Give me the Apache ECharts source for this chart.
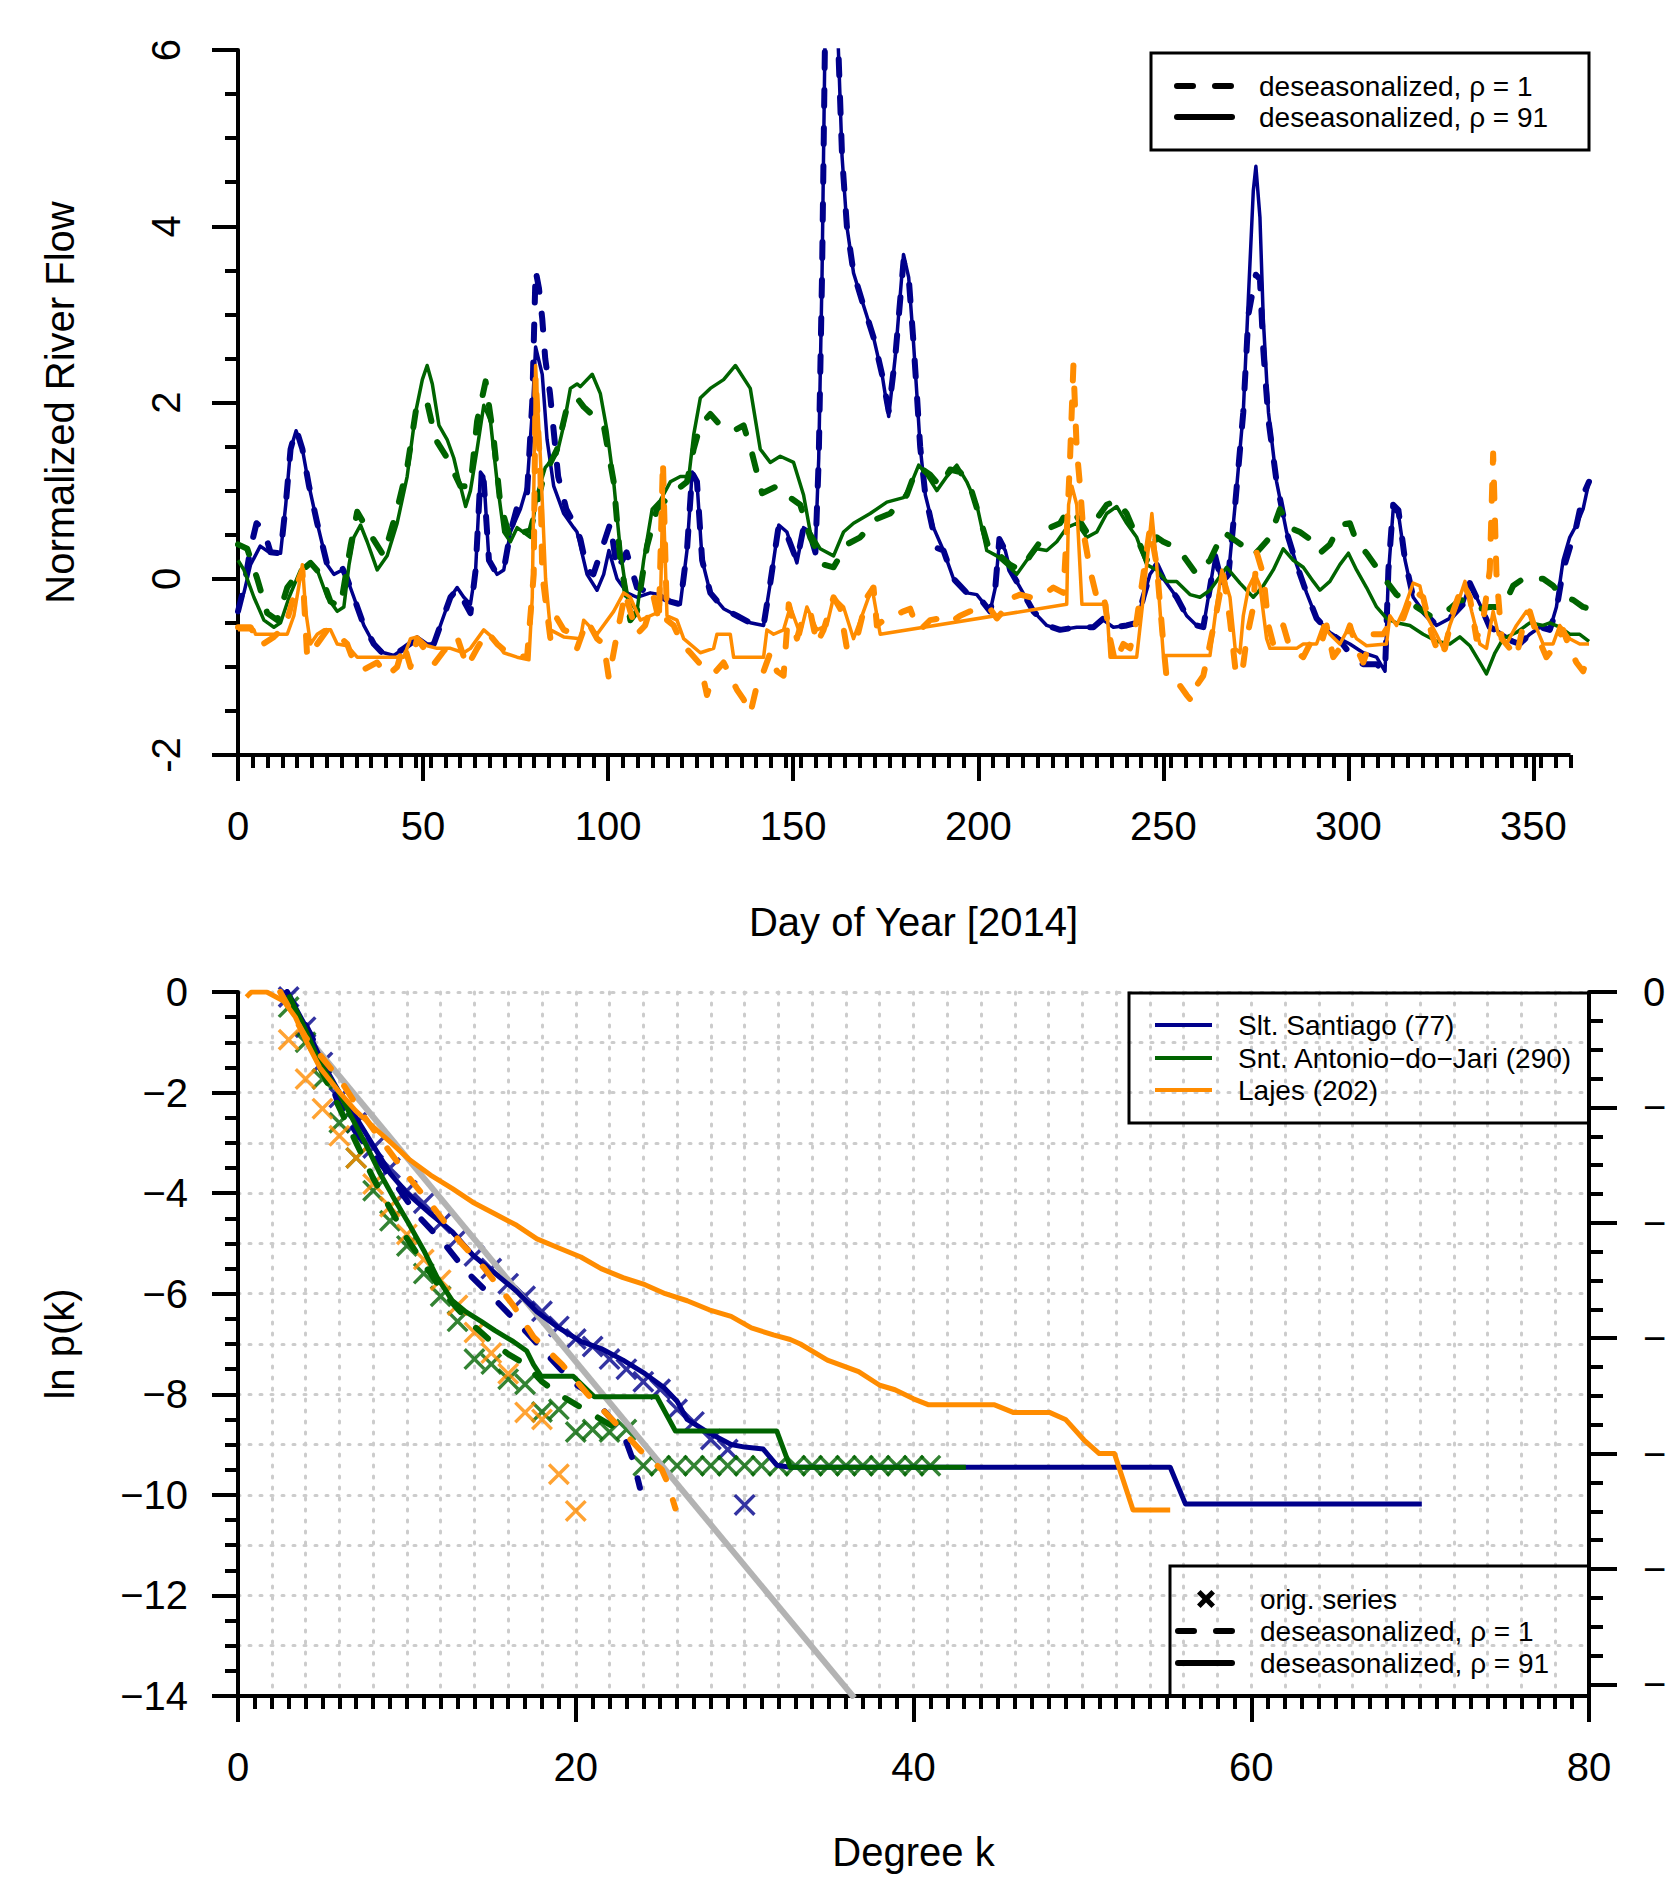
<!DOCTYPE html>
<html>
<head>
<meta charset="utf-8">
<script src="https://cdn.jsdelivr.net/npm/echarts@6/dist/echarts.min.js"></script>
<style>
html,body{margin:0;padding:0;background:#fff;}
#chart{width:1667px;height:1881px;}
</style>
</head>
<body>
<div id="chart"></div>
<script>
// ---- top panel: normalized river flow, [day, value] ----
var santiagoTop1 = [[0,-0.37],[1.6,-0.1],[3.4,0.35],[5,0.63],[7,0.55],[8.8,0.3],[11.5,0.29],[12.9,0.84],[14.2,1.47],[15.7,1.7],[17.4,1.47],[19.2,1.05],[21.4,0.63],[24.1,0.16],[25.9,0.08],[28.2,0.12],[29.5,0],[31.3,-0.21],[34,-0.53],[36.7,-0.74],[39.4,-0.86],[42.1,-0.87],[44.8,-0.79],[48.4,-0.68],[51.1,-0.74],[52.9,-0.74],[55.6,-0.42],[57.4,-0.21],[59.2,-0.12],[61,-0.25],[62.8,-0.39],[64.2,0.1],[65.5,1.16],[66.4,1.1],[67.8,0.21],[70,0.05],[71.8,0.1],[73.6,0.53],[76.3,0.95],[78.1,0.98],[79.5,2.0],[80.4,3.5],[81.3,3.3],[82.2,2.95],[83,2.5],[84.3,2.1],[86.5,1.16],[88.7,0.79],[90.7,0.63],[92.5,0.45],[94.3,0.1],[96,0.05],[98,0.3],[100.6,0.63],[102.4,0.1],[105,0.3],[107.8,-0.1],[111.4,-0.16],[114.1,-0.2],[116.8,-0.26],[119.5,-0.29],[121.3,0.32],[122.7,1.2],[124,1.1],[125.4,0.21],[127.6,-0.16],[131.2,-0.34],[134.8,-0.42],[138.4,-0.5],[142,-0.53],[143.8,-0.05],[146.1,0.61],[148.3,0.5],[151,0.2],[152.8,0.58],[154.6,0.5],[156,0.3],[156.9,1.37],[157.8,3.47],[158.7,6.5],[160,8],[161.8,6.5],[163.2,4.79],[164.5,4.0],[166.3,3.47],[169,3.1],[171.7,2.74],[174,2.32],[175.8,1.9],[177.6,2.53],[179.8,3.6],[181.2,3.42],[182.5,2.68],[183.4,2.1],[184.3,1.5],[185.7,0.95],[188.8,0.35],[190.6,0.32],[193.3,0],[196.9,-0.16],[199.6,-0.18],[203.2,-0.37],[204.6,-0.1],[205.7,0.45],[207.3,0.32],[208.6,0.1],[211.3,-0.1],[214.9,-0.37],[218.5,-0.53],[222.1,-0.58],[226.6,-0.55],[231.1,-0.55],[233.8,-0.45],[236.5,-0.55],[240.1,-0.53],[242.8,-0.5],[244.6,-0.21],[246.4,0.05],[248.2,0.16],[250,0],[253.6,-0.21],[256.3,-0.42],[259,-0.53],[260.8,-0.55],[262.6,-0.1],[264,0.26],[265.8,-0.05],[267.6,0.05],[269.4,0.84],[271.6,1.89],[273,3.0],[274.3,3.3],[275,3.45],[276.1,3.4],[277,2.6],[278.4,1.8],[280.6,1.1],[283.3,0.53],[286,0.16],[288.7,-0.16],[291.4,-0.45],[295,-0.61],[297.7,-0.7],[300.4,-0.85],[304,-0.97],[307.6,-0.97],[309.9,-1.05],[310.8,0.1],[312.1,0.84],[313.5,0.78],[315.3,0.21],[317.5,-0.21],[320.2,-0.37],[323.8,-0.53],[327.4,-0.45],[331,-0.29],[332.8,-0.05],[335.5,-0.29],[338.2,-0.55],[340.9,-0.61],[343.6,-0.7],[346.3,-0.74],[349,-0.63],[351.7,-0.55],[354.4,-0.58],[356.2,-0.35],[358,0.1],[359.8,0.35],[361.6,0.6],[363.4,0.95],[365,1.1]];
var santiagoTop91 = [[0,-0.32],[1.6,-0.16],[3.4,0.16],[6,0.37],[8.8,0.29],[11.5,0.29],[12.9,0.84],[14.2,1.47],[15.7,1.68],[17.4,1.47],[19.2,1.05],[21.4,0.63],[24.1,0.16],[25.9,0.05],[28.2,0.1],[29.5,0],[31.3,-0.21],[34,-0.53],[36.7,-0.74],[39.4,-0.84],[42.1,-0.87],[44.8,-0.79],[48.4,-0.66],[51.1,-0.74],[52.9,-0.74],[55.6,-0.42],[57.4,-0.21],[59.2,-0.1],[61,-0.21],[62.8,-0.29],[64.2,0.1],[65.5,1.21],[66.4,1.16],[67.8,0.21],[70,0.05],[71.8,0.1],[73.6,0.53],[76.3,0.79],[78.1,1.05],[79.5,1.89],[80.4,2.63],[82.2,2.32],[83.5,1.58],[85.3,1.05],[88,0.74],[90.7,0.58],[91.6,0.53],[94.3,0.05],[97,-0.13],[98.8,0.05],[100.2,0.32],[102.4,0],[105.1,-0.16],[107.8,-0.21],[111.4,-0.16],[114.1,-0.18],[116.8,-0.26],[119.5,-0.29],[121.3,0.32],[122.7,1.21],[124,1.1],[125.4,0.21],[127.6,-0.16],[131.2,-0.34],[134.8,-0.42],[138.4,-0.5],[142,-0.53],[143.8,-0.05],[146.1,0.61],[148.3,0.53],[151,0.18],[152.8,0.58],[154.6,0.53],[156,0.34],[156.9,1.37],[157.8,3.47],[158.7,6.5],[160,8],[161.8,6.5],[163.2,4.79],[164.5,4.0],[166.3,3.47],[169,3.1],[171.7,2.74],[174,2.32],[175.8,1.84],[177.6,2.53],[179.8,3.68],[181.2,3.42],[182.5,2.68],[183.4,2.1],[184.3,1.5],[185.7,0.95],[187.9,0.58],[190.6,0.32],[193.3,0],[196.9,-0.16],[199.6,-0.18],[203.2,-0.37],[204.6,-0.1],[205.7,0.42],[207.3,0.32],[208.6,0.1],[211.3,-0.1],[214.9,-0.37],[218.5,-0.53],[222.1,-0.58],[226.6,-0.55],[231.1,-0.55],[233.8,-0.47],[236.5,-0.55],[240.1,-0.53],[242.8,-0.5],[244.6,-0.21],[246.4,0.05],[248.2,0.16],[250,0],[253.6,-0.21],[256.3,-0.42],[259,-0.53],[260.8,-0.55],[262.6,-0.1],[264,0.26],[265.8,-0.05],[267.6,0.05],[269.4,0.84],[271.6,1.89],[273,3.21],[274.3,4.4],[275,4.68],[276.1,4.1],[277,2.95],[278.4,1.89],[280.6,1.1],[283.3,0.53],[286,0.16],[288.7,-0.16],[291.4,-0.45],[295,-0.61],[297.7,-0.68],[300.4,-0.74],[304,-0.84],[307.6,-0.89],[309.9,-1.05],[310.8,0.05],[312.1,0.79],[313.5,0.74],[315.3,0.21],[317.5,-0.21],[320.2,-0.37],[323.8,-0.53],[327.4,-0.45],[331,-0.29],[332.8,-0.05],[335.5,-0.29],[338.2,-0.53],[340.9,-0.61],[343.6,-0.68],[346.3,-0.74],[349,-0.63],[351.7,-0.55],[354.4,-0.58],[356.2,-0.32],[358,0.21],[359.8,0.47],[361.6,0.61],[363.4,0.79],[365,1.1]];
var antonioTop1 = [[0,0.39],[2.5,0.34],[5.2,0],[7.9,-0.39],[10.6,-0.47],[13.3,-0.1],[16,0.05],[19.6,0.18],[22.3,0.05],[25,-0.26],[27.7,-0.32],[30.4,0.37],[32.2,0.76],[35.8,0.5],[39.4,0.26],[43,0.79],[45.7,1.26],[48.4,2.0],[51.1,2.0],[53.4,1.58],[56.5,1.37],[60.1,1.05],[62.8,1.05],[64.6,1.79],[66.9,2.24],[69.1,1.58],[70.9,0.84],[73.6,0.45],[77.2,0.53],[79,0.55],[82.6,1.16],[86.2,1.47],[88.9,1.95],[91.6,2.05],[93.4,1.95],[98.8,1.74],[101.5,1.1],[103.3,0.21],[106,-0.47],[107.8,-0.37],[110.5,0.37],[113.2,0.79],[116.8,0.95],[121.3,1.1],[123.1,1.47],[124.9,1.74],[127.6,1.87],[130.3,1.74],[133.9,1.68],[136.6,1.74],[138.9,1.42],[141.6,0.97],[145.6,1.05],[149.2,0.92],[151.9,0.84],[154.6,0.47],[158.2,0.16],[160.9,0.13],[164.5,0.39],[168.1,0.47],[172.6,0.68],[176.2,0.74],[180.7,0.95],[183.4,1.26],[184.3,1.26],[187,1.18],[189.7,1.05],[192.4,1.24],[195.1,1.21],[197.8,1.05],[200.5,0.68],[203.2,0.29],[205.9,0.26],[208.6,0.16],[211.3,0.1],[214,0.26],[216.7,0.42],[219.4,0.58],[222.1,0.63],[224.4,0.79],[226.6,0.71],[229.3,0.53],[232,0.68],[234.7,0.84],[237.4,0.89],[240.1,0.74],[242.8,0.47],[245.5,0.21],[248.2,0.47],[250,0.42],[252.7,0.37],[255.4,0.26],[259,0.05],[262.6,0.21],[266.2,0.53],[268.9,0.45],[271.6,0.37],[274.3,0.26],[276.1,0.34],[278.8,0.47],[281.5,0.79],[284.2,0.58],[286.9,0.53],[289.6,0.45],[292.3,0.29],[295,0.39],[297.7,0.61],[300.4,0.63],[302.2,0.42],[304.9,0.29],[307.6,0.13],[310.3,-0.03],[313,-0.18],[315.7,-0.26],[318.4,-0.32],[322,-0.42],[324.7,-0.42],[327.4,-0.34],[330.1,-0.24],[332.8,-0.26],[335.5,-0.34],[338.2,-0.32],[341.8,-0.32],[344.5,-0.08],[347.2,0],[349.9,0],[352.6,0],[355.3,-0.08],[358,-0.21],[360.7,-0.24],[363.4,-0.32],[365,-0.34]];
var antonioTop91 = [[0,0.21],[1.6,0.1],[4.3,-0.21],[7,-0.47],[9.7,-0.55],[11.5,-0.5],[13.8,-0.21],[16.9,0.1],[19.6,0.18],[21.4,0.1],[24.1,-0.21],[26.8,-0.37],[28.6,-0.32],[30,0.16],[31.3,0.47],[33.1,0.61],[34.9,0.42],[37.6,0.1],[40.3,0.26],[43,0.63],[45.7,1.16],[48,1.89],[49.8,2.26],[51.1,2.42],[52.5,2.21],[54.3,1.74],[56.5,1.58],[58.3,1.37],[60.1,1.05],[61.5,0.82],[62.8,1.0],[64.6,1.47],[66.4,1.97],[68.2,1.79],[70,1.1],[71.8,0.53],[73.6,0.42],[75.4,0.58],[79,0.47],[80.8,0.95],[83,1.26],[86.2,1.42],[88,1.74],[89.8,2.16],[91.6,2.21],[92.5,2.18],[95.7,2.32],[97.9,2.1],[99.7,1.68],[101.5,1.1],[103.3,0.32],[105.1,-0.21],[107.8,-0.37],[109.6,0.21],[111.9,0.79],[114.1,0.89],[116.8,1.1],[119.5,1.16],[121.8,1.16],[123.1,1.63],[124.9,2.05],[127.6,2.16],[131.2,2.26],[134.4,2.42],[138.4,2.16],[141.1,1.47],[143.8,1.32],[146.5,1.39],[150.1,1.32],[152.8,0.95],[154.6,0.53],[157.3,0.34],[160.9,0.26],[163.6,0.53],[166.3,0.63],[170.8,0.74],[175.3,0.87],[179.8,0.92],[181.6,1.05],[183.9,1.29],[186.1,1.18],[188.8,1.0],[191.5,1.16],[194.2,1.29],[196.9,1.1],[199.6,0.84],[202.3,0.32],[205,0.26],[207.7,0.16],[210.4,0.05],[213.1,0.21],[215.8,0.34],[218.5,0.32],[221.2,0.42],[223.9,0.58],[226.6,0.63],[229.3,0.47],[232,0.53],[234.7,0.74],[237.4,0.82],[240.1,0.63],[242.8,0.47],[245.5,0.16],[248.2,0.1],[250.9,-0.03],[253.6,-0.03],[257.2,-0.18],[259.9,-0.21],[262.6,-0.13],[267.1,0.13],[270.7,-0.05],[274.3,-0.21],[277,-0.08],[279.7,0.1],[282.4,0.34],[285.1,0.21],[287.8,0.13],[290.5,-0.03],[292.3,-0.13],[295,-0.03],[297.7,0.16],[300,0.29],[302.2,0.1],[304.9,-0.1],[307.6,-0.32],[310.3,-0.45],[313,-0.5],[316.6,-0.53],[320.2,-0.63],[323.8,-0.71],[327.4,-0.74],[330.1,-0.66],[332.8,-0.76],[335.5,-0.95],[337.3,-1.08],[339.6,-0.84],[341.8,-0.68],[345.4,-0.61],[349,-0.5],[352.6,-0.53],[354.4,-0.5],[357.1,-0.55],[359.8,-0.63],[362.5,-0.63],[365,-0.71]];
var lajesTop1 = [[0,-0.55],[3.4,-0.55],[6.1,-0.76],[9.7,-0.66],[12.9,-0.53],[16,-0.05],[17.4,0.1],[18.7,-0.89],[21.4,-0.74],[24.1,-0.58],[26.8,-0.63],[29.5,-0.74],[31.3,-0.95],[34,-1.03],[37.6,-0.95],[40.3,-1.1],[43,-1.0],[44.8,-0.74],[46.6,-1.0],[48.4,-0.68],[51.1,-0.84],[52.9,-0.97],[55.6,-0.82],[59.2,-0.66],[61.9,-1.0],[64.6,-0.79],[67.3,-0.6],[70,-0.74],[72.7,-0.84],[75.4,-0.87],[78.1,-0.89],[79.9,0.05],[80.4,2.3],[81.7,1.2],[82.2,0.05],[84.4,-0.68],[86.2,-0.45],[88,-0.58],[89.8,-0.61],[91.6,-0.79],[94.3,-0.47],[97,-0.68],[98.8,-0.74],[100.2,-1.13],[102.4,-0.63],[104.6,-0.16],[106,-0.37],[107.8,-0.63],[110,-0.53],[112.3,-0.21],[113.7,-0.47],[114.8,1.34],[115.9,-0.47],[117.7,-0.53],[120,-0.74],[122.2,-0.84],[124.9,-0.97],[126.7,-1.32],[128.5,-1.08],[131.2,-0.95],[134.8,-1.26],[136.6,-1.37],[138.4,-1.53],[140.2,-1.21],[142,-1.05],[143.8,-0.84],[145.6,-1.05],[147.4,-1.1],[148.8,-0.29],[151,-0.68],[152.8,-0.42],[154.6,-0.37],[156.4,-0.74],[158.2,-0.58],[160.9,-0.21],[162.7,-0.34],[164.5,-0.79],[167.2,-0.68],[169.9,-0.21],[171.7,-0.1],[172.6,-0.53],[174.4,-0.47],[179.8,-0.37],[181.6,-0.34],[183.4,-0.55],[184.3,-0.58],[187,-0.47],[189.7,-0.45],[192.4,-0.5],[195.1,-0.42],[197.8,-0.37],[203.2,-0.34],[205,-0.45],[207.7,-0.32],[209.5,-0.21],[211.3,-0.18],[214,-0.21],[217.6,-0.18],[220.3,-0.1],[223,-0.16],[223.9,0.53],[224.8,1.37],[225.7,2.42],[226.6,1.47],[227.5,1.05],[228.4,0.53],[230.2,0.1],[232,-0.21],[233.8,-0.16],[235.6,-0.68],[237,-0.95],[239.2,-0.74],[241,-0.79],[242.8,-0.47],[244.6,0.05],[246.4,0.58],[248.2,0.16],[250,-0.74],[250.9,-1.13],[253.6,-1.16],[256.3,-1.32],[257.7,-1.39],[259,-1.21],[260.8,-1.1],[262.6,-0.74],[264.4,-0.37],[266.2,0.05],[268,-0.47],[269.4,-1.0],[271.2,-1.1],[272.5,-0.68],[274.3,-0.32],[275.2,0.3],[277,0.05],[278.4,-0.53],[279.7,-0.74],[282.4,-0.53],[284.2,-0.79],[287.8,-0.89],[289.6,-0.74],[292.3,-0.79],[294.1,-0.53],[295.9,-0.89],[298.6,-0.74],[300.4,-0.53],[302.2,-0.79],[304,-0.95],[306.7,-0.63],[309.4,-0.63],[312.1,-0.45],[314.8,-0.45],[317.5,-0.13],[320.2,-0.21],[322.5,-0.63],[324.7,-0.89],[326.1,-0.79],[328.3,-0.37],[331,-0.05],[332.8,-0.21],[334.6,-0.68],[336.4,-0.47],[338.2,0.1],[339.1,1.42],[340,0.05],[341.4,-0.68],[343.6,-0.79],[345.4,-0.89],[347.2,-0.53],[349,-0.37],[350.8,-0.63],[353.5,-0.89],[355.3,-0.79],[358,-0.58],[359.8,-0.79],[361.6,-0.95],[363.4,-1.05],[365,-0.84]];
var lajesTop91 = [[0,-0.58],[4.3,-0.58],[4.75,-0.63],[13.3,-0.63],[15.1,-0.42],[17.4,0.16],[18.3,-0.37],[19.6,-0.74],[21.4,-0.63],[23.2,-0.58],[25,-0.58],[26.8,-0.74],[29.5,-0.76],[32.2,-0.89],[44.8,-0.89],[46.6,-0.68],[48.4,-0.66],[51.1,-0.76],[53.8,-0.79],[57.4,-0.79],[61,-0.84],[62.8,-0.79],[66.4,-0.58],[69.1,-0.68],[71.8,-0.84],[75.4,-0.89],[78.6,-0.92],[79.5,-0.21],[80.4,2.42],[81.7,1.37],[83.1,0],[84.4,-0.58],[88,-0.66],[92.5,-0.68],[93.4,-0.47],[97,-0.63],[101.5,-0.37],[104.2,-0.16],[106,-0.21],[108.7,-0.47],[111.4,-0.42],[114.1,-0.37],[114.8,1.05],[115.9,-0.42],[118.6,-0.47],[120.4,-0.68],[124.9,-0.84],[128.5,-0.79],[129.4,-0.63],[133,-0.63],[133.9,-0.89],[142,-0.89],[142.9,-0.58],[144.7,-0.63],[147.4,-0.58],[149.2,-0.32],[151.9,-0.63],[153.7,-0.32],[156.4,-0.58],[159.1,-0.53],[160.9,-0.21],[163.6,-0.32],[166.3,-0.68],[169,-0.37],[171.3,-0.1],[173.5,-0.63],[223.9,-0.29],[224.4,0.84],[225.3,1.05],[226.6,0.84],[228,-0.29],[234.7,-0.29],[235.6,-0.89],[242.8,-0.89],[244.6,-0.21],[246.9,0.74],[248.2,0.16],[250,-0.87],[262.6,-0.87],[264,-0.42],[265.8,0.1],[268,-0.21],[269.4,-0.79],[270.7,-0.84],[271.6,-0.42],[273,-0.1],[274.8,0.05],[276.1,-0.08],[277.9,-0.68],[278.8,-0.79],[286,-0.79],[287.8,-0.74],[291.4,-0.74],[293.2,-0.53],[295,-0.63],[297.7,-0.74],[300.4,-0.53],[302.2,-0.68],[304.9,-0.76],[310.3,-0.74],[311.2,-0.42],[313,-0.53],[314.8,-0.37],[317.5,-0.05],[319.3,-0.08],[321.1,-0.42],[323.8,-0.63],[325.6,-0.79],[327.4,-0.53],[329.2,-0.32],[331.5,-0.03],[333.3,-0.37],[335.5,-0.74],[337.3,-0.79],[339.1,-0.37],[340.5,-0.63],[342.7,-0.74],[345.4,-0.53],[348.1,-0.37],[349.9,-0.47],[352.6,-0.74],[355.3,-0.74],[357.1,-0.53],[359.8,-0.68],[362.5,-0.74],[365,-0.74]];

// ---- bottom panel: degree distribution ln p(k) ----
var santiago91 = [[2.9,0],[4,-0.68],[5,-1.4],[6,-2.0],[7,-2.5],[8,-3.05],[9,-3.6],[10,-4.0],[11.4,-4.41],[12.7,-4.77],[13.9,-5.23],[15.2,-5.59],[16.5,-5.95],[17.7,-6.36],[19,-6.68],[20.3,-6.95],[21.5,-7.09],[22.8,-7.32],[24.1,-7.59],[25.2,-7.86],[26,-8.14],[26.6,-8.5],[27.9,-8.77],[29.2,-9.0],[30,-9.05],[31.1,-9.09],[31.9,-9.41],[32.7,-9.45],[55.2,-9.45],[56.1,-10.18],[70.1,-10.18]];
var santiago1 = [[2.9,0],[4,-0.65],[5.05,-1.36],[5.9,-2.18],[7,-2.8],[8.65,-3.5],[9.5,-3.9],[10.55,-4.41],[12.2,-5.0],[13.5,-5.55],[15.4,-6.18],[17.1,-6.77],[18.6,-7.32],[19.85,-7.77],[20.7,-7.95],[22,-8.45],[22.8,-8.77],[23.4,-9.32],[23.8,-9.86]];
var santiagoOrigK = [3,4,5,6,7,8,9,10,11,12,13,14,15,16,17,18,19,20,21,22,23,24,25,26,27,28,29,30];
var santiagoOrig = [-0.1,-0.7,-1.4,-2.1,-2.6,-3.1,-3.5,-3.95,-4.2,-4.6,-4.9,-5.25,-5.5,-5.8,-6.05,-6.35,-6.65,-6.9,-7.05,-7.3,-7.5,-7.75,-7.9,-8.3,-8.55,-8.9,-9.1,-10.2];

var antonio91 = [[3,-0.05],[4,-0.75],[4.84,-1.41],[5.9,-1.95],[6.74,-2.5],[7.6,-3.05],[8.4,-3.6],[9.3,-4.14],[10.1,-4.6],[11,-5.14],[11.8,-5.68],[12.7,-6.14],[13.5,-6.36],[14.4,-6.55],[15.2,-6.73],[16.3,-6.95],[17.1,-7.14],[17.5,-7.41],[17.95,-7.64],[19.85,-7.64],[21.1,-8.05],[24.8,-8.05],[25.9,-8.73],[31.9,-8.73],[32.7,-9.45],[43.1,-9.45]];
var antonio1 = [[3,-0.15],[4,-0.9],[5,-1.6],[6,-2.3],[7,-3.0],[8,-3.7],[9,-4.3],[10,-4.9],[11,-5.4],[12,-5.9],[13,-6.3],[14,-6.65],[15,-6.95],[16,-7.2],[17,-7.4],[18,-7.75],[19,-8.0],[20,-8.2],[21,-8.4],[22,-8.6],[23,-8.75]];
var antonioOrigK = [3,4,5,6,7,8,9,10,11,12,13,14,15,16,17,18,19,20,21,22,23,24,25,26,27,28,29,30,31,32,33,34,35,36,37,38,39,40,41];
var antonioOrig = [-0.3,-1.0,-1.73,-2.6,-3.3,-3.95,-4.55,-5.05,-5.6,-6.05,-6.55,-7.3,-7.4,-7.7,-7.8,-8.35,-8.3,-8.75,-8.7,-8.75,-8.7,-9.42,-9.42,-9.42,-9.42,-9.42,-9.42,-9.42,-9.42,-9.42,-9.42,-9.42,-9.42,-9.42,-9.42,-9.42,-9.42,-9.42,-9.42];

var lajes91 = [[0.5,-0.1],[0.8,0],[1.7,0],[2.7,-0.18],[3.4,-0.5],[4,-0.95],[4.84,-1.5],[5.9,-1.95],[6.96,-2.36],[8,-2.68],[9.07,-3.0],[10.1,-3.32],[11.4,-3.64],[12.7,-3.91],[13.9,-4.18],[15.2,-4.41],[16.5,-4.64],[17.7,-4.91],[19,-5.09],[20.3,-5.27],[21.5,-5.5],[22.8,-5.68],[24.1,-5.82],[25.3,-6.0],[26.6,-6.14],[27.9,-6.32],[29.2,-6.45],[30.4,-6.68],[31.7,-6.82],[32.7,-6.91],[33.3,-7.0],[34.9,-7.32],[36.75,-7.55],[38,-7.82],[38.9,-7.91],[40,-8.09],[40.9,-8.21],[44.8,-8.21],[45.9,-8.36],[48.05,-8.36],[49,-8.5],[50.1,-8.91],[51,-9.18],[51.9,-9.18],[53,-10.3],[55.2,-10.3]];
var lajes1 = [[2.5,0],[4,-0.9],[6.1,-1.77],[7.3,-2.4],[8.6,-3.0],[10.1,-3.68],[11.6,-4.3],[13.1,-4.95],[14.6,-5.5],[16.3,-6.23],[17.5,-6.86],[19.2,-7.41],[20.7,-8.0],[22.4,-8.59],[23.9,-9.14],[25.1,-9.5],[25.45,-9.77],[25.9,-10.27]];
var lajesOrigK = [3,4,5,6,7,8,9,10,11,12,13,14,15,16,17,18,19,20];
var lajesOrig = [-0.95,-1.73,-2.32,-2.86,-3.3,-3.82,-4.27,-4.82,-5.32,-5.73,-6.23,-6.77,-7.18,-7.59,-8.36,-8.5,-9.59,-10.32];

var referenceLine = [[4,-0.86],[36.5,-14.04]];

// axis ticks
var dayMajor = [0,50,100,150,200,250,300,350];
var dayMinor = [];
for (var d = 0; d <= 360; d += 4) dayMinor.push(d);
var topAxisSpan = [[0,-2],[360,-2]];
var rightMajor = [0,1,2,3,4,5,6];
var rightMinor = [];
for (var r = 0; r <= 6; r += 0.25) rightMinor.push(r);

var BLUE = '#00008B', GREEN = '#006400', ORANGE = '#FF8C00';
var FONT = 'Liberation Sans, Arial, Helvetica, sans-serif';
var XPATH = 'path://M0,1.1L1.1,0L5,3.9L8.9,0L10,1.1L6.1,5L10,8.9L8.9,10L5,6.1L1.1,10L0,8.9L3.9,5Z';

function pairs(xs, ys) {
    return xs.map(function (x, i) { return [x, ys[i]]; });
}

function lineSeries(data, color, dashed, xi, yi, width) {
    return {
        type: 'line', xAxisIndex: xi, yAxisIndex: yi, data: data,
        symbol: 'none', silent: true, animation: false,
        lineStyle: dashed
            ? { color: color, width: 6, type: [16, 22], cap: 'round', join: 'round' }
            : { color: color, width: width, join: 'round' }
    };
}

function crossSeries(data, color) {
    return {
        type: 'scatter', xAxisIndex: 2, yAxisIndex: 1, data: data,
        symbol: XPATH, symbolSize: 22, silent: true, animation: false,
        itemStyle: { color: color }
    };
}

function legendText(x, y, text) {
    return { type: 'text', z: 100, x: x, y: y, style: { text: text, fill: '#000', fontSize: 28, fontFamily: FONT, verticalAlign: 'middle' } };
}

function legendLine(x1, x2, y, color, width, dashed) {
    var style = { stroke: color, lineWidth: width, lineCap: dashed !== undefined ? 'round' : 'butt' };
    if (dashed) style.lineDash = [16, 22];
    return { type: 'line', z: 100, shape: { x1: x1, y1: y, x2: x2, y2: y }, style: style };
}

function legendBox(x, y, w, h) {
    return { type: 'rect', z: 100, shape: { x: x, y: y, width: w, height: h }, style: { fill: 'none', stroke: '#000', lineWidth: 3 } };
}

var tickStyle = { color: '#000', width: 4 };
var labelStyle = { color: '#000', fontSize: 40, fontFamily: FONT };
var dotted = { color: '#cccccc', width: 3, type: [2, 9], cap: 'round' };

var chart = echarts.init(document.getElementById('chart'), null, { renderer: 'svg' });

var option = {
    backgroundColor: '#fff',
    animation: false,
    grid: [
        { left: 238, top: 50, width: 1351, height: 705, containLabel: false, outerBoundsMode: 'none' },
        { left: 238, top: 992, width: 1351, height: 704, containLabel: false, outerBoundsMode: 'none' }
    ],
    xAxis: [
        {
            gridIndex: 0, type: 'value', min: 0, max: 365, position: 'bottom',
            axisLine: { show: false, onZero: false },
            axisTick: { show: true, customValues: dayMajor, length: 26, lineStyle: tickStyle },
            axisLabel: Object.assign({ customValues: dayMajor, margin: 51 }, labelStyle),
            splitLine: { show: false },
            name: 'Day of Year [2014]', nameLocation: 'middle', nameGap: 147,
            nameTextStyle: labelStyle
        },
        {
            gridIndex: 0, type: 'value', min: 0, max: 365, position: 'bottom',
            axisLine: { show: false, onZero: false },
            axisTick: { show: true, customValues: dayMinor, length: 13, lineStyle: tickStyle },
            axisLabel: { show: false },
            splitLine: { show: false }
        },
        {
            gridIndex: 1, type: 'value', min: 0, max: 80, interval: 20, position: 'bottom',
            axisLine: { show: true, onZero: false, lineStyle: tickStyle },
            axisTick: { show: true, length: 26, lineStyle: tickStyle },
            minorTick: { show: true, splitNumber: 20, length: 13, lineStyle: tickStyle },
            axisLabel: Object.assign({ margin: 51 }, labelStyle),
            splitLine: { show: false },
            name: 'Degree k', nameLocation: 'middle', nameGap: 136,
            nameTextStyle: labelStyle
        },
        {
            gridIndex: 1, type: 'value', min: 0, max: 80, interval: 2, position: 'top',
            axisLine: { show: false, onZero: false }, axisTick: { show: false },
            axisLabel: { show: false },
            splitLine: { show: true, lineStyle: dotted }
        }
    ],
    yAxis: [
        {
            gridIndex: 0, type: 'value', min: -2, max: 6, interval: 2, position: 'left',
            axisLine: { show: true, onZero: false, lineStyle: tickStyle },
            axisTick: { show: true, length: 26, lineStyle: tickStyle },
            minorTick: { show: true, splitNumber: 4, length: 13, lineStyle: tickStyle },
            axisLabel: Object.assign({ rotate: 90, margin: 52 }, labelStyle),
            splitLine: { show: false },
            name: 'Normalized River Flow', nameLocation: 'middle', nameGap: 158, nameRotate: 90,
            nameTextStyle: labelStyle
        },
        {
            gridIndex: 1, type: 'value', min: -14, max: 0, interval: 2, position: 'left',
            axisLine: { show: true, onZero: false, lineStyle: tickStyle },
            axisTick: { show: true, length: 26, lineStyle: tickStyle },
            minorTick: { show: true, splitNumber: 4, length: 13, lineStyle: tickStyle },
            axisLabel: Object.assign({
                margin: 50,
                formatter: function (v) { return String(v).replace('-', '\u2212'); }
            }, labelStyle),
            splitLine: { show: false },
            name: 'ln p(k)', nameLocation: 'middle', nameGap: 158, nameRotate: 90,
            nameTextStyle: labelStyle
        },
        {
            gridIndex: 1, type: 'value', min: -14, max: 0, interval: 1, position: 'right',
            axisLine: { show: false, onZero: false }, axisTick: { show: false },
            axisLabel: { show: false },
            splitLine: { show: true, lineStyle: dotted }
        },
        {
            // right-hand axis: only "0" and the leading minus signs are visible at the page edge
            gridIndex: 1, type: 'value', min: 0, max: 6.1, inverse: true, position: 'right',
            axisLine: { show: true, onZero: false, lineStyle: tickStyle },
            axisTick: { show: true, customValues: rightMajor, length: 28, lineStyle: tickStyle },
            axisLabel: Object.assign({
                customValues: rightMajor, margin: 54, align: 'left',
                formatter: function (v) { return v === 0 ? '0' : '\u2212'; }
            }, labelStyle),
            splitLine: { show: false }
        },
        {
            gridIndex: 1, type: 'value', min: 0, max: 6.1, inverse: true, position: 'right',
            axisLine: { show: false, onZero: false },
            axisTick: { show: true, customValues: rightMinor, length: 14, lineStyle: tickStyle },
            axisLabel: { show: false },
            splitLine: { show: false }
        }
    ],
    series: [
        // top panel
        lineSeries(santiagoTop1, BLUE, true, 0, 0),
        lineSeries(santiagoTop91, BLUE, false, 0, 0, 3.5),
        lineSeries(antonioTop1, GREEN, true, 0, 0),
        lineSeries(antonioTop91, GREEN, false, 0, 0, 3.5),
        lineSeries(lajesTop1, ORANGE, true, 0, 0),
        lineSeries(lajesTop91, ORANGE, false, 0, 0, 3.5),
        {
            type: 'line', xAxisIndex: 0, yAxisIndex: 0, data: topAxisSpan, symbol: 'none',
            clip: false, silent: true, z: 5, lineStyle: { color: '#000', width: 4 }
        },
        // bottom panel
        lineSeries(referenceLine, '#b3b3b3', false, 2, 1, 6),
        crossSeries(pairs(santiagoOrigK, santiagoOrig), BLUE),
        lineSeries(santiago1, BLUE, true, 2, 1),
        lineSeries(santiago91, BLUE, false, 2, 1, 5),
        crossSeries(pairs(antonioOrigK, antonioOrig), GREEN),
        lineSeries(antonio1, GREEN, true, 2, 1),
        lineSeries(antonio91, GREEN, false, 2, 1, 5),
        crossSeries(pairs(lajesOrigK, lajesOrig), ORANGE),
        lineSeries(lajes1, ORANGE, true, 2, 1),
        lineSeries(lajes91, ORANGE, false, 2, 1, 5)
    ],
    graphic: [
        // top legend
        legendBox(1151, 53, 438, 97),
        legendLine(1177, 1232, 86, '#000', 6, true),
        legendLine(1177, 1232, 117, '#000', 6, false),
        legendText(1259, 86, 'deseasonalized, ρ = 1'),
        legendText(1259, 117, 'deseasonalized, ρ = 91'),
        // station legend
        legendBox(1129, 993, 460, 130),
        legendLine(1155, 1212, 1025, BLUE, 4),
        legendLine(1155, 1212, 1058, GREEN, 4),
        legendLine(1155, 1212, 1090, ORANGE, 4),
        legendText(1238, 1025, 'Slt. Santiago (77)'),
        legendText(1238, 1058, 'Snt. Antonio\u2212do\u2212Jari (290)'),
        legendText(1238, 1090, 'Lajes (202)'),
        // style legend
        legendBox(1170, 1566, 419, 130),
        { type: 'polygon', z: 100, x: 1197, y: 1590, scaleX: 1.8, scaleY: 1.8,
          shape: { points: [[0,2],[2,0],[5,3],[8,0],[10,2],[7,5],[10,8],[8,10],[5,7],[2,10],[0,8],[3,5]] },
          style: { fill: '#000' } },
        legendLine(1178, 1232, 1631, '#000', 6, true),
        legendLine(1178, 1232, 1663, '#000', 6, false),
        legendText(1260, 1599, 'orig. series'),
        legendText(1260, 1631, 'deseasonalized, ρ = 1'),
        legendText(1260, 1663, 'deseasonalized, ρ = 91')
    ]
};

chart.setOption(option);
</script>
</body>
</html>
